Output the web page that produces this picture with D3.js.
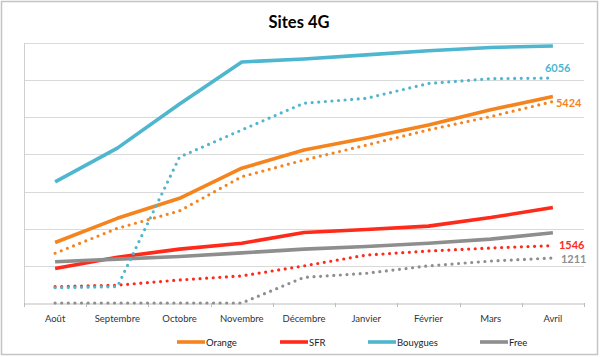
<!DOCTYPE html>
<html><head><meta charset="utf-8">
<script src="https://cdn.jsdelivr.net/npm/d3@7"></script>
<style>body{margin:0;background:#fff}svg{display:block;font-family:Lato,"Open Sans",sans-serif}</style>
</head><body>
<svg id="c" width="600" height="357"></svg>
<script>
const months = ["Août","Septembre","Octobre","Novembre","Décembre","Janvier","Février","Mars","Avril"];
const orange      = [1630,2280,2820,3630,4120,4440,4790,5200,5560];
const orangeDot   = [1340,2010,2480,3400,3850,4250,4660,5020,5424];
const sfr         = [930,1230,1450,1610,1900,1980,2070,2300,2570];
const sfrDot      = [440,480,620,730,1000,1290,1400,1480,1546];
const bouygues    = [3260,4170,5360,6490,6570,6680,6790,6880,6920];
const bouyguesDot = [410,440,3930,4660,5380,5510,5910,6040,6056];
const free        = [1110,1180,1250,1350,1450,1520,1610,1720,1890];
const freeDot     = [0,0,0,0,690,800,1000,1130,1211];
const yTicks = [0,1000,2000,3000,4000,5000,6000,7000];
const endLabels = ["6056","5424","1546","1211"];
const legendNames = ["Orange","SFR","Bouygues","Free"];

const C = {Orange:"#F5841F", SFR:"#FF2A1A", Bouygues:"#4EB6CF", Free:"#8E8E8E"};

const svg = d3.select("#c");
svg.append("rect").attr("x",1.5).attr("y",1.5).attr("width",596).attr("height",353)
  .attr("fill","#fff").attr("stroke","#c4c4c4").attr("stroke-width",1.5);

const L=24,R=584,T=43,B=303;
const x = d3.scaleBand().domain(months).range([L,R]);
const y = d3.scaleLinear().domain([0,7000]).range([B,T]);
const cx = m => x(m)+x.bandwidth()/2;

// grid
svg.append("g").selectAll("line").data(yTicks.slice(1)).join("line")
  .attr("x1",L).attr("x2",R).attr("y1",d=>Math.round(y(d))+0.5).attr("y2",d=>Math.round(y(d))+0.5)
  .attr("stroke","#d9d9d9").attr("stroke-width",1);
// left axis line
svg.append("line").attr("x1",L+0.5).attr("x2",L+0.5).attr("y1",T).attr("y2",B)
  .attr("stroke","#d0d0d0");
// x axis
const xa = svg.append("g").attr("transform",`translate(0,${B+0.5})`)
  .call(d3.axisBottom(x).tickSize(0).tickPadding(12));
xa.select(".domain").attr("stroke","#bdbdbd");
xa.selectAll("text").attr("font-size","9.5px").attr("fill","#333").attr("font-family","Lato,sans-serif");
// band boundary ticks
const bounds = months.map(m=>x(m)).concat([R]);
svg.append("g").selectAll("line").data(bounds).join("line")
  .attr("x1",d=>Math.round(d)+0.5).attr("x2",d=>Math.round(d)+0.5).attr("y1",B).attr("y2",B+4)
  .attr("stroke","#bdbdbd");

const line = d3.line().x((d,i)=>cx(months[i])).y(d=>y(d));
const series = [
  {v:orange,c:C.Orange,dot:false},{v:sfr,c:C.SFR,dot:false},{v:bouygues,c:C.Bouygues,dot:false},{v:free,c:C.Free,dot:false},
  {v:orangeDot,c:C.Orange,dot:true},{v:sfrDot,c:C.SFR,dot:true},{v:bouyguesDot,c:C.Bouygues,dot:true},{v:freeDot,c:C.Free,dot:true}
];
svg.append("g").selectAll("path").data(series).join("path")
  .attr("d",d=>line(d.v)).attr("fill","none").attr("stroke",d=>d.c)
  .attr("stroke-width",d=>d.dot?3.2:3.6)
  .attr("stroke-linecap",d=>d.dot?"round":"butt")
  .attr("stroke-linejoin","round")
  .attr("stroke-dasharray",d=>d.dot?"0 6.6":null);

// end labels
const lab = [
  {t:endLabels[0],v:bouyguesDot[8],c:C.Bouygues,dx:-8,dy:-6},
  {t:endLabels[1],v:orangeDot[8],c:C.Orange,dx:3,dy:5},
  {t:endLabels[2],v:sfrDot[8],c:C.SFR,dx:6,dy:3},
  {t:endLabels[3],v:freeDot[8],c:C.Free,dx:8,dy:5}
];
svg.append("g").selectAll("text").data(lab).join("text")
  .attr("x",d=>cx(months[8])+d.dx).attr("y",d=>y(d.v)+d.dy)
  .attr("fill",d=>d.c).attr("font-size","11px").attr("font-weight","bold").text(d=>d.t);

// title
svg.append("text").attr("x",299).attr("y",28).attr("text-anchor","middle")
  .attr("font-size","16.5px").attr("font-weight","bold").attr("fill","#000").text("Sites 4G");

// legend
const legX = [177,280,368,480];
const lg = svg.append("g").selectAll("g").data(legendNames).join("g")
  .attr("transform",(d,i)=>`translate(${legX[i]},342)`);
lg.append("line").attr("x1",0).attr("x2",28).attr("stroke",d=>C[d]).attr("stroke-width",3.6);
lg.append("text").attr("x",29).attr("y",3.5).attr("font-size","9.5px").attr("fill","#222").text(d=>d);
</script>
</body></html>
